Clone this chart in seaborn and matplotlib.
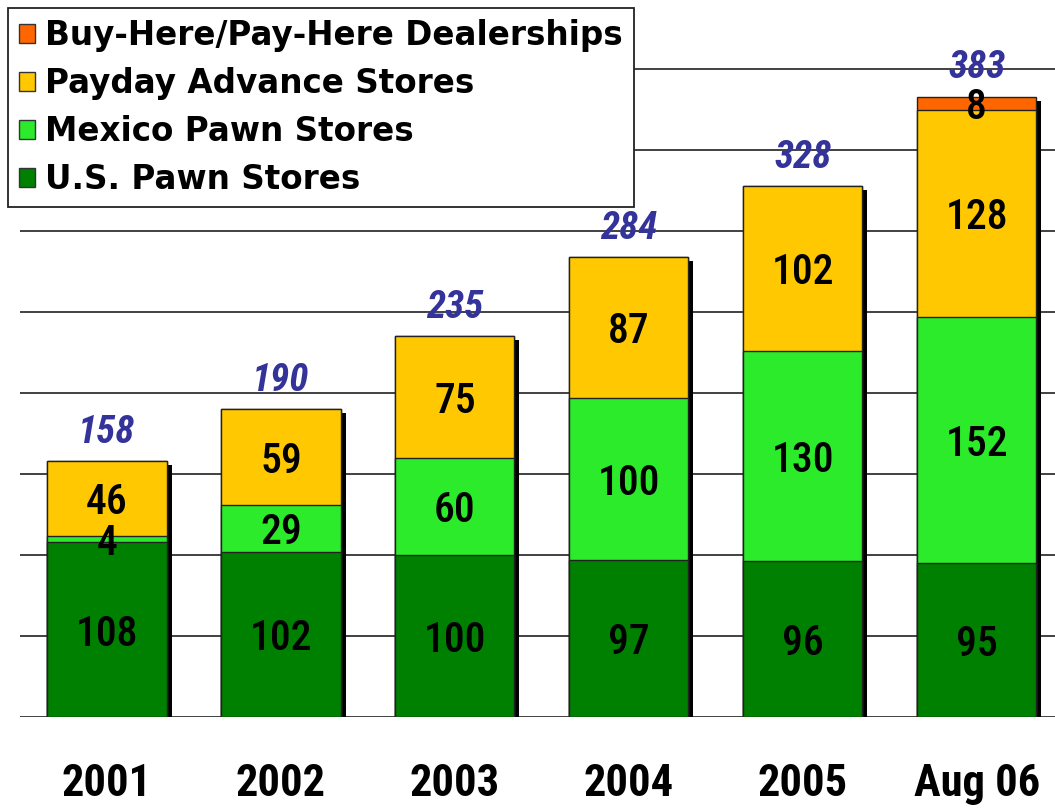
import matplotlib
matplotlib.use("Agg")
import matplotlib.pyplot as plt
from matplotlib.transforms import ScaledTranslation
from matplotlib.patches import Patch
import numpy as np
import seaborn as sns

# Store counts by category and year
years = ["2001", "2002", "2003", "2004", "2005", "Aug 06"]
us_pawn = [108, 102, 100, 97, 96, 95]
mexico_pawn = [4, 29, 60, 100, 130, 152]
payday = [46, 59, 75, 87, 102, 128]
buy_here = [0, 0, 0, 0, 0, 8]

series_names = ["U.S. Pawn Stores", "Mexico Pawn Stores",
                "Payday Advance Stores", "Buy-Here/Pay-Here Dealerships"]
series_values = [us_pawn, mexico_pawn, payday, buy_here]
series_colors = ["#008000", "#2BEB2B", "#FFC800", "#FF6600"]

sns.set_theme(style="white")
narrow = ["Roboto Condensed", "DejaVu Sans"]
plt.rcParams["font.family"] = ["DejaVu Sans"]
plt.rcParams["text.color"] = "black"

fig = plt.figure(figsize=(10.55, 8.1), dpi=100)
ax = fig.add_axes([20 / 1055, 93 / 810, 1 - 20 / 1055, 717 / 810])

stack = np.cumsum(np.array(series_values), axis=0)
totals = stack[-1]
bar_w = 0.685

# drop shadow behind each full bar
sns.barplot(x=years, y=totals, color="black", width=bar_w, saturation=1,
            errorbar=None, linewidth=0, ax=ax, zorder=1)
shift = ScaledTranslation(5 / 100, -4 / 100, fig.dpi_scale_trans)
for p in ax.patches:
    p.set_transform(ax.transData + shift)

# stacked segments, drawn from the tallest cumulative layer down
for level in range(len(series_values) - 1, -1, -1):
    sns.barplot(x=years, y=stack[level], color=series_colors[level],
                width=bar_w, saturation=1, errorbar=None,
                edgecolor="#222222", linewidth=1.0, ax=ax, zorder=2)

# value labels inside each segment
for level, vals in enumerate(series_values):
    for i, v in enumerate(vals):
        if v <= 0:
            continue
        center = stack[level][i] - v / 2
        ax.text(i, center, str(v), ha="center", va="center_baseline",
                fontsize=30, family=narrow, fontweight="medium",
                color="black", zorder=5)

# totals above the bars
for i, t in enumerate(totals):
    ax.annotate(str(t), (i, t), xytext=(0, 13), textcoords="offset points",
                ha="center", va="baseline", fontsize=28, family=narrow,
                fontweight="bold", fontstyle="italic", color="#333399",
                zorder=5)

ax.set_xlim(-0.5, 5.45)
ax.set_ylim(0, 717 / 1.62)
ax.set_yticks(np.arange(0, 401, 50))
ax.set_yticklabels([])
ax.yaxis.grid(True, color="#333333", linewidth=1.3)
ax.xaxis.grid(False)
ax.set_axisbelow(True)
for s in ax.spines.values():
    s.set_visible(False)
ax.tick_params(axis="both", length=0)
ax.tick_params(axis="x", pad=33, labelcolor="black")
for lab in ax.get_xticklabels():
    lab.set_fontfamily(narrow)
    lab.set_fontsize(32)
    lab.set_fontweight("bold")
ax.set_xlabel("")
ax.set_ylabel("")

handles = [Patch(facecolor=series_colors[k], edgecolor="#333333", linewidth=1)
           for k in range(len(series_names) - 1, -1, -1)]
labels = [series_names[k] for k in range(len(series_names) - 1, -1, -1)]
leg = fig.legend(handles, labels, loc="upper left",
                 bbox_to_anchor=(8 / 1055, 1 - 8 / 810),
                 bbox_transform=fig.transFigure, borderaxespad=0,
                 prop={"weight": "bold", "size": 23.5, "family": "DejaVu Sans"},
                 handlelength=0.5, handleheight=0.5, handletextpad=0.3,
                 labelspacing=0.46, borderpad=0.34, fancybox=False,
                 framealpha=1, edgecolor="#222222", labelcolor="black")
leg.get_frame().set_linewidth(1.3)
leg.set_zorder(10)

fig.savefig("out.png", dpi=100)
